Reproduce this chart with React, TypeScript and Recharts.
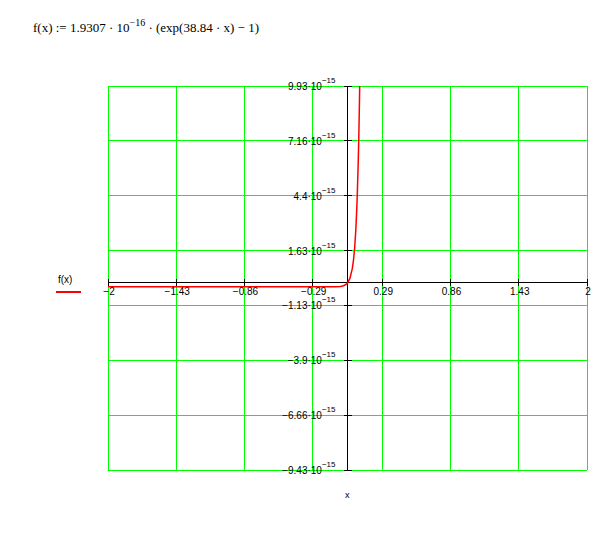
import React from 'react';
import {
  LineChart,
  Line,
  XAxis,
  YAxis,
  CartesianGrid,
  ReferenceLine,
  ReferenceDot,
} from 'recharts';

// sampled points of f(x), y in units of 10^-15
const xValues = [-2, -1, -0.5, -0.29, -0.15, -0.1, -0.06, -0.04, -0.02, 0, 0.02, 0.04, 0.05, 0.06, 0.07, 0.08, 0.09, 0.095, 0.1, 0.102];
const fValues = [-0.193, -0.193, -0.193, -0.193, -0.193, -0.189, -0.174, -0.152, -0.104, 0, 0.227, 0.72, 1.153, 1.79, 2.73, 4.12, 6.17, 7.54, 9.19, 9.93];

const xTicks = [-2, -1.43, -0.86, -0.29, 0.29, 0.86, 1.43, 2];
const yTicks = [-9.43, -6.66, -3.9, -1.13, 1.63, 4.4, 7.16, 9.93];

const data = xValues.map((x, i) => ({ x, f: fValues[i] }));

const tickFont = '"Liberation Sans", Arial, sans-serif';
const fmt = (v: number) => String(v).replace('-', '\u2212');

function XTick(props: any) {
  const { cx, cy, value } = props;
  return (
    <g>
      <line x1={cx} y1={cy - 4} x2={cx} y2={cy + 3} stroke="#000" strokeWidth={1} shapeRendering="crispEdges" />
      <text x={cx + 1} y={cy + 12} textAnchor="middle" fontSize={10} fontFamily={tickFont} fill="#000">
        {fmt(value)}
      </text>
    </g>
  );
}

function YTick(props: any) {
  const { cx, cy, value } = props;
  return (
    <g>
      <line x1={cx - 4} y1={cy} x2={cx + 4} y2={cy} stroke="#000" strokeWidth={1} shapeRendering="crispEdges" />
      <text x={cx - 12} y={cy + 4} textAnchor="end" fontSize={10} fontFamily={tickFont} fill="#000">
        {fmt(value) + '\u00b710'}
        <tspan dy={-7} fontSize={8}>{'\u221215'}</tspan>
      </text>
    </g>
  );
}

const hiddenTick = { fill: 'transparent', fontSize: 1 };

export default function App() {
  return (
    <div style={{ position: 'absolute', left: 0, top: 0, width: 604, height: 555, background: '#fff' }}>
      <div
        style={{
          position: 'absolute',
          left: 33,
          top: 20,
          fontFamily: '"Liberation Serif", "Times New Roman", serif',
          fontSize: 13,
          whiteSpace: 'nowrap',
          color: '#000',
        }}
      >
        f(x) := 1.9307 · 10<sup style={{ fontSize: 10, verticalAlign: 6, lineHeight: 0 }}>{'\u221216'}</sup> · (exp(38.84 · x) − 1)
      </div>
      <LineChart width={604} height={555} data={data} margin={{ top: 86, right: 17, bottom: 85, left: 108 }}>
        <CartesianGrid stroke="#00ff00" strokeWidth={1} shapeRendering="crispEdges" />
        <XAxis
          type="number"
          dataKey="x"
          domain={[-2, 2]}
          ticks={xTicks}
          interval={0}
          allowDataOverflow
          tick={hiddenTick}
          axisLine={false}
          tickLine={false}
          height={0}
        />
        <YAxis
          type="number"
          domain={[-9.43, 9.93]}
          ticks={yTicks}
          interval={0}
          allowDataOverflow
          tick={hiddenTick}
          axisLine={false}
          tickLine={false}
          width={0}
        />
        <ReferenceLine x={0} stroke="#000" strokeWidth={1} shapeRendering="crispEdges" />
        <ReferenceLine y={0} stroke="#000" strokeWidth={1} shapeRendering="crispEdges" />
        {xTicks.map((t) => (
          <ReferenceDot key={'xt' + t} x={t} y={0} r={0} shape={(p: any) => <XTick {...p} value={t} />} />
        ))}
        {yTicks.map((t) => (
          <ReferenceDot key={'yt' + t} x={0} y={t} r={0} shape={(p: any) => <YTick {...p} value={t} />} />
        ))}
        <Line
          type="linear"
          dataKey="f"
          stroke="#ff0000"
          strokeWidth={1.5}
          dot={false}
          isAnimationActive={false}
        />
      </LineChart>
      {/* legend */}
      <div style={{ position: 'absolute', left: 58, top: 274, fontFamily: tickFont, fontSize: 10, color: '#000' }}>
        f(x)
      </div>
      <div style={{ position: 'absolute', left: 56, top: 291, width: 25, height: 2, background: '#ff0000' }} />
      <div
        style={{
          position: 'absolute',
          left: 345,
          top: 490,
          fontFamily: tickFont,
          fontSize: 9,
          color: '#000',
        }}
      >
        x
      </div>
    </div>
  );
}
